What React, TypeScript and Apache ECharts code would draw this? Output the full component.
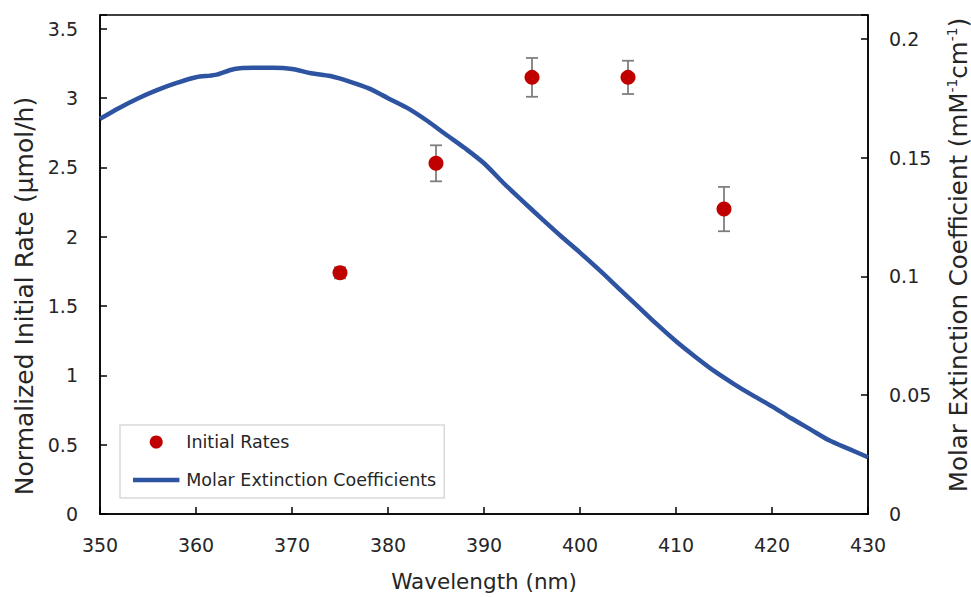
import React, { useEffect, useRef } from "react";
import * as echarts from "echarts";

// Molar extinction coefficient spectrum (mM^-1 cm^-1)
const wavelengths = [350, 352, 354, 356, 358, 360, 362, 364, 366, 368, 370, 372, 374, 376, 378, 380, 382, 384, 386, 388, 390, 392, 394, 396, 398, 400, 402, 404, 406, 408, 410, 412, 414, 416, 418, 420, 422, 424, 426, 428, 430];
const extinction = [0.1663, 0.1709, 0.175, 0.1785, 0.1814, 0.1838, 0.1848, 0.1873, 0.1878, 0.1878, 0.1873, 0.1855, 0.1843, 0.182, 0.1791, 0.175, 0.1709, 0.1657, 0.1598, 0.154, 0.1476, 0.1394, 0.1318, 0.1243, 0.117, 0.11, 0.1027, 0.0951, 0.0875, 0.0799, 0.0727, 0.0662, 0.0601, 0.0548, 0.0499, 0.0453, 0.0403, 0.0356, 0.0309, 0.0274, 0.0239];

// Initial rates (normalized, µmol/h) with error bars
const rateWavelengths = [375, 385, 395, 405, 415];
const rates = [1.74, 2.53, 3.15, 3.15, 2.2];
const rateErrors = [0.04, 0.13, 0.14, 0.12, 0.16];

const xTicks = [350, 360, 370, 380, 390, 400, 410, 420, 430];

const xName = "Wavelength (nm)";
const yLeftName = "Normalized Initial Rate (µmol/h)";
const yRightName = "Molar Extinction Coefficient (mM{sup|-1}cm{sup|-1})";

const FONT = "'DejaVu Sans', Verdana, sans-serif";
const TEXT = "#262626";

export default function App() {
  const ref = useRef<HTMLDivElement>(null);
  useEffect(() => {
    if (!ref.current) return;
    const chart = echarts.init(ref.current, null, { renderer: "svg" });
    const lineData = wavelengths.map((w, i) => [w, extinction[i]]);
    const scatterData = rateWavelengths.map((w, i) => [w, rates[i]]);
    const errData = rateWavelengths.map((w, i) => [w, rates[i] - rateErrors[i], rates[i] + rateErrors[i]]);
    const axisLine = { show: true, lineStyle: { color: "#000", width: 1.5 } };
    const axisTick = { show: true, inside: true, length: 7, lineStyle: { color: "#000", width: 1.5 } };
    chart.setOption({
      animation: false,
      backgroundColor: "#fff",
      textStyle: { fontFamily: FONT },
      grid: {
        left: 100,
        right: 103,
        top: 15,
        bottom: 83,
        show: true,
        borderColor: "#000",
        borderWidth: 1.5,
        backgroundColor: "transparent",
        outerBoundsMode: "none",
        containLabel: false,
      },
      graphic: [
        {
          type: "text",
          x: 484,
          y: 581,
          style: { text: xName, fontSize: 21.5, fill: TEXT, fontFamily: FONT, align: "center", verticalAlign: "middle" },
        },
        {
          type: "text",
          x: 24,
          y: 296,
          rotation: Math.PI / 2,
          style: { text: yLeftName, fontSize: 25, fill: TEXT, fontFamily: FONT, align: "center", verticalAlign: "middle" },
        },
        {
          type: "text",
          x: 958,
          y: 255,
          rotation: Math.PI / 2,
          style: {
            text: yRightName,
            fontSize: 24.5,
            fill: TEXT,
            fontFamily: FONT,
            align: "center",
            verticalAlign: "middle",
            rich: {
              sup: { fontSize: 14, fill: TEXT, fontFamily: FONT, verticalAlign: "top", padding: [0, 0, 12, 0] },
            },
          },
        },
      ],
      legend: {
        orient: "vertical",
        left: 120,
        top: 425,
        data: [
          { name: "Initial Rates", icon: "circle" },
          { name: "Molar Extinction Coefficients", icon: "path://M0,0L0,0M0,4.5L50,4.5L50,9.5L0,9.5ZM50,14L50,14" },
        ],
        itemWidth: 50,
        itemHeight: 13,
        itemGap: 20,
        padding: [8, 8, 9, 13],
        borderColor: "#d9d9d9",
        borderWidth: 1.5,
        backgroundColor: "#fff",
        textStyle: { fontSize: 17.5, color: TEXT, fontFamily: FONT },
      },
      xAxis: {
        type: "value",
        min: 350,
        max: 430,
        interval: 10,
        axisLine,
        axisTick,
        axisLabel: {
          fontSize: 19,
          color: TEXT,
          fontFamily: FONT,
          margin: 21,
          formatter: (v: number) => (xTicks.includes(v) ? String(v) : ""),
        },
        splitLine: { show: false },
      },
      yAxis: [
        {
          type: "value",
          min: 0,
          max: 3.6,
          interval: 0.5,
          axisLine,
          axisTick,
          axisLabel: {
            fontSize: 19,
            color: TEXT,
            fontFamily: FONT,
            margin: 22,
            formatter: (v: number) => (v > 3.55 ? "" : String(v)),
          },
          splitLine: { show: false },
        },
        {
          type: "value",
          min: 0,
          max: 0.21,
          interval: 0.05,
          position: "right",
          axisLine,
          axisTick,
          axisLabel: {
            fontSize: 19,
            color: TEXT,
            fontFamily: FONT,
            margin: 21,
            formatter: (v: number) => (v > 0.205 ? "" : String(Math.round(v * 100) / 100)),
          },
          splitLine: { show: false },
        },
      ],
      series: [
        {
          name: "Molar Extinction Coefficients",
          type: "line",
          yAxisIndex: 1,
          data: lineData,
          symbol: "none",
          smooth: 0.3,
          lineStyle: { color: "#2E54A1", width: 4.5 },
          itemStyle: { color: "#2E54A1" },
          z: 2,
        },
        {
          name: "errorbars",
          type: "custom",
          yAxisIndex: 0,
          data: errData,
          z: 3,
          renderItem: (params: any, api: any) => {
            const x = api.value(0);
            const lo = api.coord([x, api.value(1)]);
            const hi = api.coord([x, api.value(2)]);
            const cap = 6;
            const style = { stroke: "#7f7f7f", lineWidth: 1.8 };
            return {
              type: "group",
              children: [
                { type: "line", shape: { x1: lo[0], y1: lo[1], x2: hi[0], y2: hi[1] }, style },
                { type: "line", shape: { x1: lo[0] - cap, y1: lo[1], x2: lo[0] + cap, y2: lo[1] }, style },
                { type: "line", shape: { x1: hi[0] - cap, y1: hi[1], x2: hi[0] + cap, y2: hi[1] }, style },
              ],
            };
          },
        },
        {
          name: "Initial Rates",
          type: "scatter",
          yAxisIndex: 0,
          data: scatterData,
          symbol: "circle",
          symbolSize: 15,
          itemStyle: { color: "#C00000", opacity: 1 },
          z: 4,
        },
      ],
    });
    return () => chart.dispose();
  }, []);
  return (
    <div
      ref={ref}
      style={{ position: "absolute", left: 0, top: 0, width: 971, height: 597 }}
    />
  );
}
